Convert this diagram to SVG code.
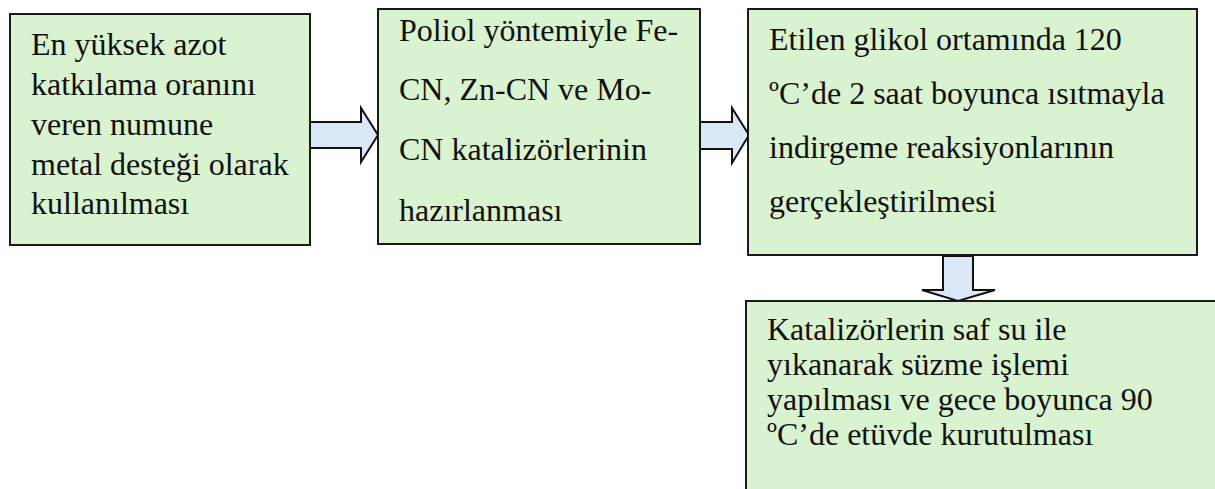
<svg xmlns="http://www.w3.org/2000/svg" width="1215" height="489" viewBox="0 0 1215 489">
<style>
.box{fill:#d9f2d0;stroke:#1a1a1a;stroke-width:2}
.arr{fill:#dae7f6;stroke:#111;stroke-width:2;stroke-linejoin:miter}
.t{font-family:'Liberation Serif','Times New Roman',serif;font-size:32px;fill:#111}
</style>
<rect width="1215" height="489" fill="#fff"/>
<g id="connectors">
<polygon class="arr" points="310,122 361,122 361,108 378,135 361,162 361,148 310,148"/>
<polygon class="arr" points="700,122 732,122 732,108 749,135 732,163 732,149 700,149"/>
<polygon class="arr" points="943,256 973,256 973,290 995,290 958,301 922,290 943,290"/>
</g>
<g id="node1" class="t">
<rect class="box" x="10" y="14" width="300" height="231"/>
<text x="31" y="55">En yüksek azot</text>
<text x="31" y="95">katkılama oranını</text>
<text x="31" y="135">veren numune</text>
<text x="31" y="175">metal desteği olarak</text>
<text x="31" y="214">kullanılması</text>
</g>
<g id="node2" class="t">
<rect class="box" x="378" y="9" width="322" height="235"/>
<text x="399" y="41">Poliol yöntemiyle Fe-</text>
<text x="399" y="100">CN, Zn-CN ve Mo-</text>
<text x="399" y="160">CN katalizörlerinin</text>
<text x="399" y="221">hazırlanması</text>
</g>
<g id="node3" class="t">
<rect class="box" x="748" y="9" width="449" height="246"/>
<text x="769" y="50">Etilen glikol ortamında 120</text>
<text x="769" y="104">ºC’de 2 saat boyunca ısıtmayla</text>
<text x="769" y="158">indirgeme reaksiyonlarının</text>
<text x="769" y="212">gerçekleştirilmesi</text>
</g>
<g id="node4" class="t">
<rect class="box" x="746" y="301" width="490" height="210"/>
<text x="767" y="340">Katalizörlerin saf su ile</text>
<text x="767" y="375">yıkanarak süzme işlemi</text>
<text x="767" y="410">yapılması ve gece boyunca 90</text>
<text x="767" y="445">ºC’de etüvde kurutulması</text>
</g>
</svg>
